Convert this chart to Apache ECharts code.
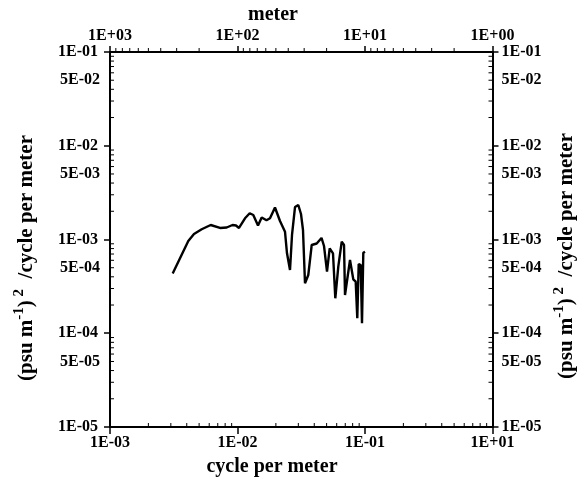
<!DOCTYPE html>
<html><head><meta charset="utf-8">
<script src="https://cdn.jsdelivr.net/npm/echarts@6/dist/echarts.min.js"></script>
<style>html,body{margin:0;padding:0;background:#fff}#c{width:582px;height:485px}</style>
</head><body><div id="c"></div>
<script>
// ---- data (cycle per meter vs spectral density) ----
const freq = [0.003102,0.004112,0.004558,0.005237,0.006163,0.007291,0.008228,0.009138,0.009732,0.010276,
  0.011450,0.012465,0.013298,0.014480,0.015478,0.016885,0.017983,0.019679,0.021544,0.023580,
  0.024445,0.025812,0.026762,0.028249,0.029982,0.031477,0.032635,0.033836,0.035913,0.038194,
  0.041803,0.045593,0.047697,0.050350,0.052842,0.056105,0.058490,0.061741,0.065679,0.068457,
  0.069699,0.076272,0.080937,0.084539,0.087006,0.089237,0.092521,0.094733,0.096985,0.1];
const power = [4.338e-4,9.638e-4,1.145e-3,1.285e-3,1.428e-3,1.327e-3,1.343e-3,1.428e-3,1.410e-3,1.327e-3,
  1.683e-3,1.904e-3,1.826e-3,1.410e-3,1.717e-3,1.602e-3,1.683e-3,2.194e-3,1.575e-3,1.211e-3,
  7.124e-4,4.727e-4,1.117e-3,2.221e-3,2.333e-3,1.871e-3,1.263e-3,3.410e-4,4.181e-4,8.737e-4,
  9.065e-4,1.038e-3,8.526e-4,4.533e-4,8.055e-4,7.124e-4,2.359e-4,5.127e-4,9.474e-4,8.737e-4,
  2.559e-4,6.043e-4,3.763e-4,3.548e-4,1.443e-4,5.478e-4,5.346e-4,1.277e-4,7.230e-4,7.410e-4];

// ---- tick labels ----
const xTickValues = [1e-3, 1e-2, 1e-1, 1];
const xTickLabels = ['1E-03', '1E-02', '1E-01', '1E+01'];
const meterTickValues = [1000, 100, 10, 1];
const meterTickLabels = ['1E+03', '1E+02', '1E+01', '1E+00'];
const yTickValues = [1e-5, 1e-4, 1e-3, 1e-2, 1e-1];
const yTickLabels = ['1E-05', '1E-04', '1E-03', '1E-02', '1E-01'];
const yHalfValues = [5e-5, 5e-4, 5e-3, 5e-2];
const yHalfLabels = ['5E-05', '5E-04', '5E-03', '5E-02'];
const minorMantissas = [2, 3, 4, 5, 6, 7, 8, 9];

const X_MIN = 1e-3, X_MAX = 1, Y_MIN = 1e-5, Y_MAX = 1e-1, M_MIN = 1, M_MAX = 1000;
const FONT = 'Liberation Serif';
const LBL_SIZE = 16;

function decadeMinors(e0, e1) {
  const out = [];
  for (let e = e0; e < e1; e++) for (const m of minorMantissas) out.push(m * Math.pow(10, e));
  return out;
}
const yMinor = decadeMinors(-5, -1);
const xMinor = decadeMinors(-3, 0);
const mMinor = decadeMinors(0, 3);

function pick(vals, labels) {
  return function (v) {
    for (let i = 0; i < vals.length; i++) {
      if (Math.abs(Math.log10(v) - Math.log10(vals[i])) < 1e-6) return labels[i];
    }
    return '';
  };
}

const lbl = { fontFamily: FONT, fontWeight: 'bold', fontSize: LBL_SIZE, color: '#000' };
const axLine = { show: true, onZero: false, lineStyle: { color: '#000', width: 2 } };
const tick = { show: true, inside: false, length: 6, lineStyle: { color: '#000', width: 1.5 } };

function baseAxis(extra) {
  return Object.assign({
    type: 'log', logBase: 10,
    axisLine: axLine, axisTick: tick,
    splitLine: { show: false }, minorTick: { show: false }, minorSplitLine: { show: false }
  }, extra);
}

const chart = echarts.init(document.getElementById('c'), null, { renderer: 'canvas' });

const tickLine = (x1, y1, x2, y2) => ({ type: 'line', shape: { x1, y1, x2, y2 }, style: { stroke: '#000', lineWidth: 1 } });

const option = {
  backgroundColor: '#fff',
  animation: false,
  grid: { left: 110, right: 89.5, top: 52, bottom: 58, containLabel: false },
  xAxis: [
    baseAxis({ min: X_MIN, max: X_MAX, position: 'bottom',
      axisTick: Object.assign({}, tick, { length: 7 }),
      axisLabel: Object.assign({}, lbl, { margin: 8, formatter: pick(xTickValues, xTickLabels) }) }),
    baseAxis({ min: M_MIN, max: M_MAX, position: 'top', inverse: true,
      axisLabel: Object.assign({}, lbl, { margin: 8, formatter: pick(meterTickValues, meterTickLabels) }) })
  ],
  yAxis: [
    baseAxis({ min: Y_MIN, max: Y_MAX, position: 'left',
      axisLabel: Object.assign({}, lbl, { margin: 12, formatter: pick(yTickValues, yTickLabels) }) }),
    baseAxis({ min: Y_MIN, max: Y_MAX, position: 'right',
      axisLabel: Object.assign({}, lbl, { margin: 9, formatter: pick(yTickValues, yTickLabels) }) })
  ],
  series: [
    {
      type: 'line', xAxisIndex: 0, yAxisIndex: 0, showSymbol: false, symbol: 'none',
      lineStyle: { color: '#000', width: 2.4 }, z: 10,
      data: freq.map((f, i) => [f, power[i]])
    },
    { // minor ticks, left & right axes
      type: 'custom', xAxisIndex: 0, yAxisIndex: 0, silent: true, z: 5,
      data: yMinor.map(v => [X_MIN, v]),
      renderItem: (p, api) => {
        const v = api.value(1);
        const a = api.coord([X_MIN, v]), b = api.coord([X_MAX, v]);
        return { type: 'group', children: [tickLine(a[0], a[1], a[0] + 4, a[1]), tickLine(b[0] - 4, b[1], b[0], b[1])] };
      }
    },
    { // minor ticks, bottom axis
      type: 'custom', xAxisIndex: 0, yAxisIndex: 0, silent: true, z: 5,
      data: xMinor.map(v => [v, Y_MIN]),
      renderItem: (p, api) => {
        const v = api.value(0);
        const a = api.coord([v, Y_MIN]);
        return tickLine(a[0], a[1], a[0], a[1] - 4);
      }
    },
    { // minor ticks, top (meter) axis
      type: 'custom', xAxisIndex: 1, yAxisIndex: 0, silent: true, z: 5,
      data: mMinor.map(v => [v, Y_MAX]),
      renderItem: (p, api) => {
        const v = api.value(0);
        const a = api.coord([v, Y_MAX]);
        return tickLine(a[0], a[1], a[0], a[1] - 4);
      }
    },
    { // half-decade labels on both y axes
      type: 'custom', xAxisIndex: 0, yAxisIndex: 0, silent: true, z: 5,
      data: yHalfValues.map(v => [X_MIN, v]),
      renderItem: (p, api) => {
        const v = api.value(1);
        const i = p.dataIndex;
        const a = api.coord([X_MIN, v]), b = api.coord([X_MAX, v]);
        const st = (align) => ({ text: yHalfLabels[i], fill: '#000', font: 'bold ' + LBL_SIZE + 'px "' + FONT + '"', align: align, verticalAlign: 'middle' });
        return { type: 'group', children: [
          { type: 'text', x: a[0] - 10, y: a[1], style: st('right') },
          { type: 'text', x: b[0] + 9, y: b[1], style: st('left') }
        ] };
      }
    }
  ],
  graphic: (function () {
    const rich = {
      n: { fontFamily: FONT, fontWeight: 'bold', fontSize: 21, lineHeight: 30, fill: '#000' },
      s: { fontFamily: FONT, fontWeight: 'bold', fontSize: 15, verticalAlign: 'top', fill: '#000' }
    };
    const yName = '{n|(psu m}{s|-1}{n|)}{s| 2}{n|  /cycle per meter}';
    const plain = { fontFamily: FONT, fontWeight: 'bold', fontSize: 20, fill: '#000', align: 'center', verticalAlign: 'middle' };
    return [
      { type: 'text', x: 273, y: 15, style: Object.assign({ text: 'meter' }, plain) },
      { type: 'text', x: 272, y: 467, style: Object.assign({ text: 'cycle per meter' }, plain) },
      { type: 'text', x: 27, y: 258, rotation: Math.PI / 2, style: { text: yName, rich: rich, align: 'center', verticalAlign: 'middle' } },
      { type: 'text', x: 567, y: 256, rotation: Math.PI / 2, style: { text: yName, rich: rich, align: 'center', verticalAlign: 'middle' } }
    ];
  })()
};
chart.setOption(option);
</script>
</body></html>
